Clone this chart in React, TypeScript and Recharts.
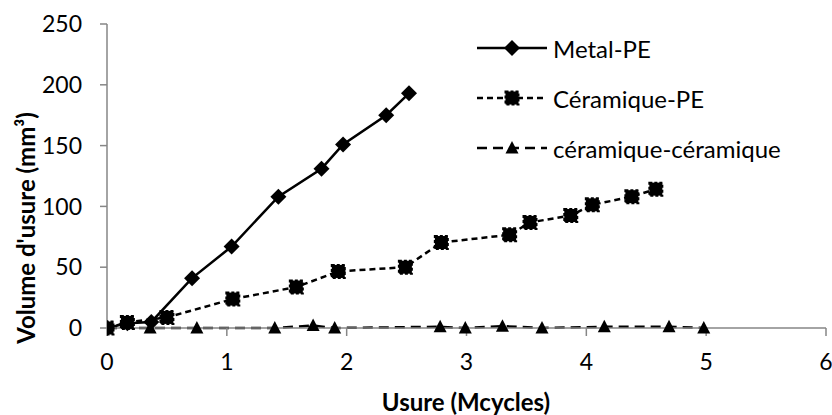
import React from "react";
import { LineChart, Line, XAxis, YAxis } from "recharts";

// Metal-PE
const metalX = [0, 0.17, 0.37, 0.71, 1.04, 1.43, 1.79, 1.97, 2.33, 2.52];
const metalY = [0, 4, 5, 41, 67, 108, 131, 151, 175, 193];

// Céramique-PE
const cerPeX = [0, 0.17, 0.5, 1.05, 1.58, 1.93, 2.49, 2.79, 3.36, 3.53, 3.87, 4.05, 4.38, 4.58];
const cerPeY = [0, 4.6, 8.7, 23.8, 33.7, 46.5, 50, 70.3, 76.7, 86.8, 92.5, 101.3, 108, 114.2];

// céramique-céramique
const cerCerX = [0, 0.36, 0.75, 1.4, 1.72, 1.9, 2.78, 2.99, 3.3, 3.63, 4.15, 4.69, 4.98];
const cerCerY = [0, 0, 0, 0, 2, 0, 1, 0, 1.5, 0, 1, 1, 0];

const xTicks = [0, 1, 2, 3, 4, 5, 6];
const yTicks = [0, 50, 100, 150, 200, 250];

const toPoints = (xs: number[], ys: number[]) =>
  xs.map((x, i) => ({ x, y: ys[i] }));

type Shape = "diamond" | "square" | "triangle";

const series: { name: string; data: { x: number; y: number }[]; shape: Shape; dash?: string }[] = [
  { name: "Metal-PE", data: toPoints(metalX, metalY), shape: "diamond" },
  { name: "Céramique-PE", data: toPoints(cerPeX, cerPeY), shape: "square", dash: "6 4" },
  { name: "céramique-céramique", data: toPoints(cerCerX, cerCerY), shape: "triangle", dash: "10 6" },
];

const FONT = "Lato, 'Open Sans', sans-serif";
const AXIS = "#868686";

function Marker({ shape, cx, cy }: { shape: Shape; cx: number; cy: number }) {
  if (shape === "diamond") {
    const r = 8;
    return <path d={`M${cx},${cy - r}L${cx + r},${cy}L${cx},${cy + r}L${cx - r},${cy}Z`} fill="#000" />;
  }
  if (shape === "square") {
    const r = 6.5;
    return (
      <rect x={cx - r} y={cy - r} width={2 * r} height={2 * r} fill="#000" stroke="#000" strokeWidth={2} strokeDasharray="3 2" />
    );
  }
  return <path d={`M${cx},${cy - 7}L${cx + 6.5},${cy + 5.5}L${cx - 6.5},${cy + 5.5}Z`} fill="#000" />;
}

export default function App() {
  return (
    <div style={{ position: "absolute", left: 0, top: 0, width: 832, height: 415, background: "#fff", fontFamily: FONT }}>
      <LineChart width={832} height={415} margin={{ top: 24, right: 6, bottom: 0, left: 0 }}>
        <XAxis
          type="number"
          dataKey="x"
          domain={[0, 6]}
          ticks={xTicks}
          allowDataOverflow
          height={87}
          tickSize={8}
          tickMargin={18}
          axisLine={{ stroke: AXIS, strokeWidth: 1.5 }}
          tickLine={{ stroke: AXIS, strokeWidth: 1.5 }}
          tick={{ fill: "#000", fontSize: 23, fontFamily: FONT }}
          label={() => (
            <text x={466} y={401} textAnchor="middle" dominantBaseline="central" fontSize={24} fontWeight="bold" fontFamily={FONT} fill="#000">
              Usure (Mcycles)
            </text>
          )}
        />
        <YAxis
          type="number"
          dataKey="y"
          domain={[0, 250]}
          ticks={yTicks}
          width={107}
          tickSize={7}
          tickMargin={18}
          axisLine={{ stroke: AXIS, strokeWidth: 1.5 }}
          tickLine={{ stroke: AXIS, strokeWidth: 1.5 }}
          tick={{ fill: "#000", fontSize: 23, fontFamily: FONT }}
          label={() => (
            <text
              x={25}
              y={228}
              transform="rotate(-90 25 228)"
              textAnchor="middle"
              dominantBaseline="central"
              fontSize={24}
              fontWeight="bold"
              fontFamily={FONT}
              fill="#000"
            >
              Volume d'usure (mm³)
            </text>
          )}
        />
        {series.map((s) => (
          <Line
            key={s.name}
            data={s.data}
            dataKey="y"
            name={s.name}
            type="linear"
            stroke="#000"
            strokeWidth={2.5}
            strokeDasharray={s.dash}
            isAnimationActive={false}
            dot={(p: any) => <Marker key={`${s.name}-${p.index}`} shape={s.shape} cx={p.cx} cy={p.cy} />}
            activeDot={false}
          />
        ))}
      </LineChart>

      {/* legend */}
      <svg style={{ position: "absolute", left: 0, top: 0 }} width={832} height={415} pointerEvents="none">
        {series.map((s, i) => {
          const y = 48 + i * 50;
          return (
            <g key={s.name}>
              <line x1={477} x2={547} y1={y} y2={y} stroke="#000" strokeWidth={2.5} strokeDasharray={s.dash} />
              <Marker shape={s.shape} cx={512} cy={y} />
              <text x={553} y={y} dominantBaseline="central" fontSize={24} fontFamily={FONT} fill="#000">
                {s.name}
              </text>
            </g>
          );
        })}
      </svg>
    </div>
  );
}
